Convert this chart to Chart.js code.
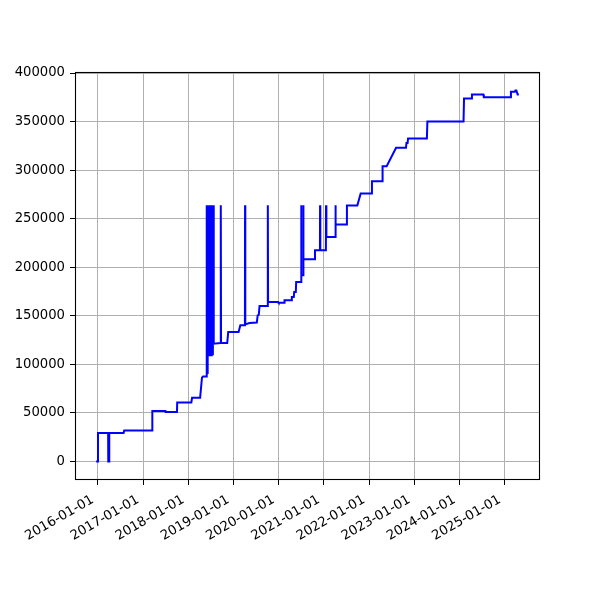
<!DOCTYPE html>
<html>
<head>
<meta charset="utf-8">
<script src="https://cdn.jsdelivr.net/npm/chart.js@4.4.0/dist/chart.umd.min.js"></script>
<style>
  html, body { margin: 0; padding: 0; background: #ffffff; }
  #wrap { width: 600px; height: 600px; }
</style>
</head>
<body>
<div id="wrap"><canvas id="c" width="600" height="600"></canvas></div>
<script>
const dates = [
  '2015-12-19','2015-12-28','2016-01-03','2016-03-25','2016-03-26','2016-04-02','2016-04-03',
  '2016-07-28','2016-08-02','2017-03-15','2017-03-17','2017-07-01','2017-07-02','2017-10-02','2017-10-04',
  '2018-01-26','2018-02-01','2018-04-07','2018-04-22','2018-05-01',
  '2018-05-27','2018-05-29','2018-06-01','2018-06-04','2018-06-07','2018-06-10','2018-06-14','2018-06-17',
  '2018-06-21','2018-06-24','2018-06-28','2018-07-01','2018-07-05','2018-07-08','2018-07-12','2018-07-15',
  '2018-07-19','2018-07-22','2018-07-26',
  '2018-09-20','2018-09-21','2018-09-23','2018-11-12','2018-11-20',
  '2019-02-12','2019-02-26','2019-04-04','2019-04-05','2019-04-07','2019-05-10','2019-07-09','2019-07-16',
  '2019-07-25','2019-07-31','2019-10-05','2019-10-06','2019-10-08','2019-12-28',
  '2020-01-01','2020-02-14','2020-02-18','2020-04-14','2020-04-17','2020-05-03','2020-05-06','2020-05-19',
  '2020-05-22','2020-06-30','2020-07-01','2020-07-04','2020-07-17','2020-07-18','2020-07-21',
  '2020-10-18','2020-10-21','2020-11-30','2020-12-01','2020-12-03',
  '2021-01-17','2021-01-18','2021-01-21','2021-04-03','2021-04-04','2021-04-07','2021-07-02','2021-07-06',
  '2021-09-28','2021-10-25',
  '2022-01-20','2022-01-24','2022-04-16','2022-04-20','2022-05-23','2022-08-07','2022-10-26','2022-10-30',
  '2022-11-08','2022-11-12',
  '2023-04-13','2023-04-17',
  '2024-02-03','2024-02-07','2024-04-07','2024-04-11','2024-07-12','2024-07-16',
  '2025-02-16','2025-02-20','2025-03-24','2025-03-28','2025-04-05','2025-04-15','2025-04-25'
];
const values = [
  0,0,29200,29200,0,0,29200,
  29200,32000,32000,51900,51900,51000,51000,60800,
  60800,65600,65600,86300,87600,
  87600,263900,87600,263900,90000,263900,109300,263900,
  109300,263900,109300,263900,109300,263900,109300,263900,
  109300,263900,121300,
  122000,263900,122000,122000,133300,
  133300,140200,140200,263900,141200,142600,143000,150500,
  151000,160100,160100,263900,164200,164200,
  163500,163500,166000,166000,169400,169400,174500,174500,
  184800,184800,263900,191700,191700,263900,208200,
  208200,217500,217500,263900,217500,
  217500,263900,231200,231200,263900,244000,244000,263600,
  263600,276000,
  276000,288700,288700,304100,304100,323000,323000,328100,
  328100,332600,
  332600,350200,
  350200,373900,373900,378000,378000,375200,
  375200,380700,380700,382000,382000,378000,378000
];
const xTickLabels = ['2016-01-01','2017-01-01','2018-01-01','2019-01-01','2020-01-01',
  '2021-01-01','2022-01-01','2023-01-01','2024-01-01','2025-01-01'];
const yTickValues = [0,50000,100000,150000,200000,250000,300000,350000,400000];

const toMs = s => { const p = s.split('-').map(Number); return Date.UTC(p[0], p[1]-1, p[2]); };
const points = dates.map((d, i) => ({ x: toMs(d), y: values[i] }));

const xs = points.map(p => p.x), ys = points.map(p => p.y);
const xLo = Math.min(...xs), xHi = Math.max(...xs);
const yLo = Math.min(...ys), yHi = Math.max(...ys);
const xPad = (xHi - xLo) * 0.05, yPad = (yHi - yLo) * 0.05;

const FONT = { family: 'DejaVu Sans', size: 13.2 };

const frame = {
  id: 'frame',
  afterDraw(chart) {
    const a = chart.chartArea, ctx = chart.ctx;
    ctx.save();
    ctx.strokeStyle = '#000000';
    ctx.lineWidth = 1.1;
    ctx.strokeRect(Math.round(a.left) + 0.5, Math.round(a.top) + 0.5,
                   Math.round(a.right - a.left) - 1, Math.round(a.bottom - a.top) - 1);
    ctx.restore();
  }
};

new Chart(document.getElementById('c'), {
  type: 'line',
  data: {
    datasets: [{
      data: points,
      borderColor: '#0000ff',
      borderWidth: 2,
      pointRadius: 0,
      tension: 0,
      fill: false
    }]
  },
  options: {
    responsive: false,
    animation: false,
    layout: { padding: { left: 0, top: 72, right: 60, bottom: 0 } },
    plugins: { legend: { display: false }, title: { display: false }, tooltip: { enabled: false } },
    scales: {
      x: {
        type: 'linear',
        min: xLo - xPad,
        max: xHi + xPad,
        afterBuildTicks: s => { s.ticks = xTickLabels.map(l => ({ value: toMs(l) })); },
        afterFit: s => { s.height = 120; },
        grid: { color: '#b0b0b0', lineWidth: 1, tickColor: '#000000', tickWidth: 1, tickLength: 5 },
        border: { display: false },
        ticks: {
          autoSkip: false,
          minRotation: 30,
          maxRotation: 30,
          padding: 7,
          labelOffset: -5,
          color: '#000000',
          font: FONT,
          callback: v => new Date(v).toISOString().slice(0, 10)
        }
      },
      y: {
        type: 'linear',
        min: yLo - yPad,
        max: yHi + yPad,
        afterBuildTicks: s => { s.ticks = yTickValues.map(v => ({ value: v })); },
        afterFit: s => { s.width = 75; },
        grid: { color: '#b0b0b0', lineWidth: 1, tickColor: '#000000', tickWidth: 1, tickLength: 5 },
        border: { display: false },
        ticks: {
          color: '#000000',
          font: FONT,
          padding: 5,
          callback: v => String(v)
        }
      }
    }
  },
  plugins: [frame]
});
</script>
</body>
</html>
